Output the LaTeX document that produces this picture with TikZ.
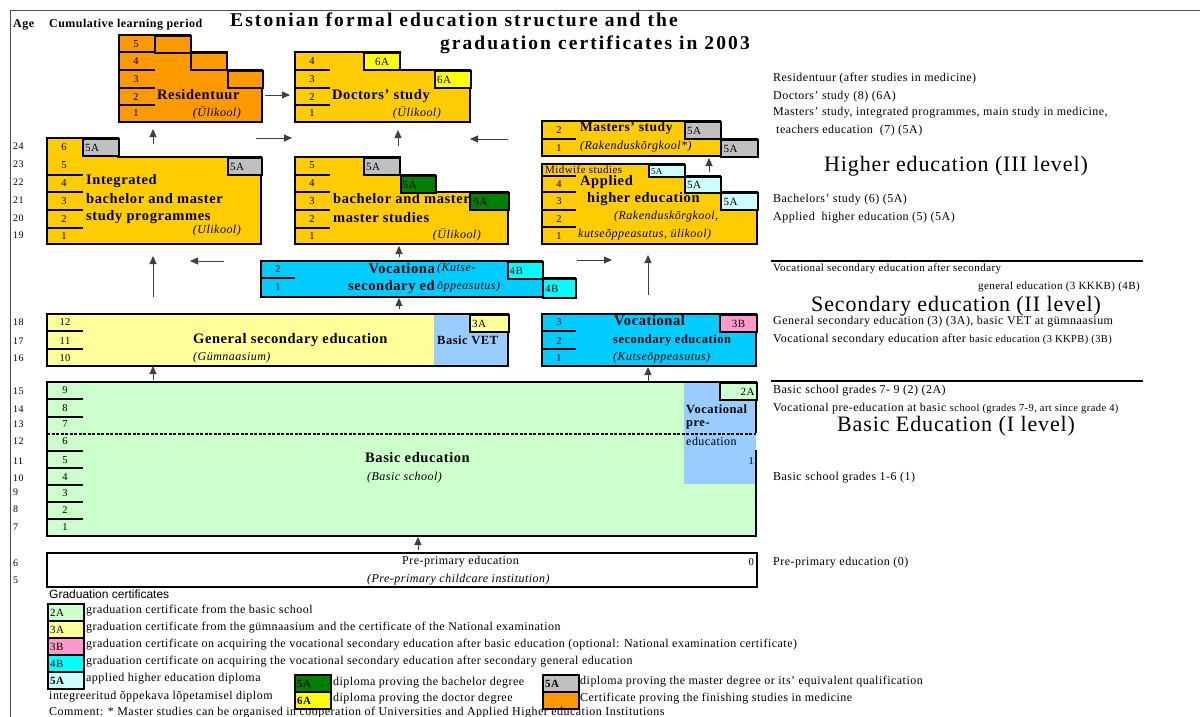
\documentclass[tikz,border=0pt]{standalone}
\usepackage{fontspec}
\setmainfont{Liberation Serif}[LetterSpace=4]
\setsansfont{Liberation Sans}
\usetikzlibrary{arrows.meta}

\definecolor{medorange}{HTML}{FF9900}
\definecolor{higold}{HTML}{FFCC00}
\definecolor{docyellow}{HTML}{FFFF00}
\definecolor{magrey}{HTML}{C0C0C0}
\definecolor{bagreen}{HTML}{008000}
\definecolor{apcyan}{HTML}{CCFFFF}
\definecolor{vocblue}{HTML}{00CCFF}
\definecolor{vscyan}{HTML}{00FFFF}
\definecolor{genyellow}{HTML}{FFFF99}
\definecolor{vetblue}{HTML}{99CCFF}
\definecolor{vspink}{HTML}{FF99CC}
\definecolor{basgreen}{HTML}{CCFFCC}

\begin{document}
\begin{tikzpicture}[x=1pt, y=-1pt]
	\tikzset{block/.style={draw=black, line width=1.6pt, fill=#1},
		cert/.style={draw=black, line width=2.2pt, fill=#1, anchor=north west, inner sep=1pt,
			minimum width=36pt, minimum height=17pt, text width=32pt, align=left,
			font=\fontsize{11}{11}\selectfont},
		sep/.style={line width=1.6pt},
		num/.style={font=\fontsize{10.5}{11}\selectfont, inner sep=0pt},
		age/.style={font=\fontsize{10}{10}\selectfont, anchor=west, inner sep=0pt},
		lab/.style={font=\fontsize{14.5}{15}\selectfont\bfseries, anchor=west, inner sep=0pt},
		sublab/.style={font=\fontsize{12.5}{13}\selectfont\bfseries, anchor=west, inner sep=0pt},
		itl/.style={font=\fontsize{12}{12}\selectfont\itshape, inner sep=0pt},
		side/.style={font=\fontsize{12}{12}\selectfont, anchor=west, inner sep=0pt},
		small/.style={font=\fontsize{11}{11}\selectfont, anchor=west, inner sep=0pt},
		level/.style={font=\fontsize{22}{22}\selectfont, anchor=west, inner sep=0pt},
		titletext/.style={font=\fontsize{19.5}{20}\selectfont\bfseries\addfontfeature{LetterSpace=10.8}, inner sep=0pt},
		arr/.style={-{Triangle[length=8pt,width=7pt]}, draw=black!75, line width=0.9pt}}
	\useasboundingbox (0,0) rectangle (1200,717);
	
	% frame and title
	\draw[black!70, line width=0.8pt] (10,717) -- (10,10) -- (1200,10);
	\node[age, font=\fontsize{12}{12}\selectfont\bfseries] (agehead) at (13,25) {Age};
	\node[age, font=\fontsize{12}{12}\selectfont\bfseries] (cumhead) at (49,25) {Cumulative learning period};
	\node[titletext, anchor=base west] (title1) at (230,27) {Estonian formal education structure and the};
	\node[titletext, anchor=base east] (title2) at (750,49.5) {graduation certificates in 2003};
	
	% Residentuur
	\draw[block=medorange] (119,35) -| (190,52) -| (227,70) -| (262,122) -- (119,122) -- cycle;
	\node[cert=medorange] (res5) at (154,35) {};
	\node[cert=medorange] (res4) at (190,52) {};
	\node[cert=medorange, minimum width=35pt] (res3) at (227,70) {};
	\foreach \y in {52,70,88,105} \draw[sep] (119,\y) -- (155,\y);
	\foreach \n/\y in {5/44,4/61,3/79,2/97,1/113} \node[num] (resn\n) at (136,\y) {\n};
	\node[lab] (reslab) at (157,95) {Residentuur};
	\node[itl, anchor=east] (resinst) at (241,113) {(Ülikool)};
	
	% Doctors' study
	\draw[block=higold] (295,52) -| (400,70) -| (470,122) -- (295,122) -- cycle;
	\node[cert=docyellow] (doc4) at (363,52) {\hfill6A\hfill\null};
	\node[cert=docyellow] (doc3) at (434,70) {6A};
	\foreach \y in {70,88,105} \draw[sep] (295,\y) -- (330,\y);
	\foreach \n/\y in {4/61,3/79,2/97,1/113} \node[num] (docn\n) at (312,\y) {\n};
	\node[lab] (doclab) at (332,96) {Doctors' study};
	\node[itl, anchor=east] (docinst) at (441,113) {(Ülikool)};
	
	% Integrated bachelor and master
	\draw[block=higold] (47,138) -| (118,157) -| (261,244) -- (47,244) -- cycle;
	\node[cert=magrey] (int6) at (82,138) {5A};
	\node[cert=magrey, minimum width=34pt, text width=30pt] (int5) at (227,157) {5A};
	\foreach \y in {175,192,210,228} \draw[sep] (47,\y) -- (83,\y);
	\foreach \n/\y in {6/147,5/165,4/183,3/201,2/219,1/236} \node[num] (intn\n) at (64,\y) {\n};
	\node[lab] (intlab1) at (86,181) {Integrated};
	\node[lab] (intlab2) at (86,199) {bachelor and master};
	\node[lab] (intlab3) at (86,217) {study programmes};
	\node[itl, anchor=east] (intinst) at (241,231) {(Ulikool)};
	
	% Bachelor and master studies
	\draw[block=higold] (295,157) -| (400,175) -| (435,192) -| (508,244) -- (295,244) -- cycle;
	\node[lab] (balab1) at (333,199) {bachelor and master};
	\node[lab] (balab2) at (333,218) {master studies};
	\node[cert=magrey] (ba5) at (363,157) {5A};
	\node[cert=bagreen, minimum width=35pt] (ba4) at (400,175) {5A};
	\node[cert=bagreen, minimum width=39pt] (ba3) at (469,192) {5A};
	\foreach \y in {175,192,210,228} \draw[sep] (295,\y) -- (330,\y);
	\foreach \n/\y in {5/165,4/183,3/201,2/219,1/236} \node[num] (ban\n) at (312,\y) {\n};
	\node[itl, anchor=east] (bainst) at (481,235) {(Ülikool)};
	
	% Masters' study (applied)
	\draw[block=higold] (542,121) -| (720,139) -| (757,156) -- (542,156) -- cycle;
	\node[cert=magrey] (ma2) at (684,121) {5A};
	\node[cert=magrey, minimum width=37pt] (ma1) at (720,139) {5A};
	\draw[sep] (542,139) -- (576,139);
	\foreach \n/\y in {2/130,1/148} \node[num] (man\n) at (559,\y) {\n};
	\node[lab, font=\fontsize{13.5}{14}\selectfont\bfseries] (malab) at (580,128) {Masters' study};
	\node[itl, anchor=west] (mainst) at (580,147) {(Rakenduskõrgkool*)};
	
	% Applied higher education
	\draw[block=higold] (542,164) -| (684,176) -| (720,192) -| (757,244) -- (542,244) -- cycle;
	\node[cert=apcyan, minimum height=12pt, font=\fontsize{9}{9}\selectfont] (ap5) at (648,164) {5A};
	\node[cert=apcyan, minimum height=16pt] (ap4) at (684,176) {5A};
	\node[cert=apcyan, minimum width=37pt] (ap3) at (720,192) {5A};
	\foreach \y in {176,192,210,227} \draw[sep] (542,\y) -- (576,\y);
	\foreach \n/\y in {4/184,3/201,2/219,1/236} \node[num] (apn\n) at (559,\y) {\n};
	\node[small] (midwife) at (545,170) {Midwife studies};
	\node[lab] (aplab1) at (580,182) {Applied};
	\node[lab] (aplab2) at (587,199) {higher education};
	\node[itl, anchor=west] (apinst1) at (614,217) {(Rakenduskõrgkool,};
	\node[itl, anchor=west] (apinst2) at (578,235) {kutseõppeasutus, ülikool)};
	
	% Vocational secondary education after secondary
	\draw[block=vocblue] (261,261) -| (542,278) -| (575,297) -- (261,297) -- cycle;
	\node[cert=vscyan, minimum width=35pt] (vs2) at (507,261) {4B};
	\node[cert=vscyan, minimum width=33pt, minimum height=19pt, text width=29pt] (vs1) at (542,278) {4B};
	\draw[sep] (261,278) -- (295,278);
	\foreach \n/\y in {2/269,1/287} \node[num] (vsn\n) at (278,\y) {\n};
	\node[lab, anchor=east] (vslab1) at (435,269) {Vocationa};
	\node[lab, anchor=east] (vslab2) at (435,287) {secondary ed};
	\node[itl, anchor=west] (vsinst1) at (437,269) {(Kutse-};
	\node[itl, anchor=west] (vsinst2) at (437,287) {õppeasutus)};
	
	% General secondary education and basic VET
	\fill[genyellow] (47,314) rectangle (434,366);
	\fill[vetblue] (434,314) rectangle (508,366);
	\draw[block=none] (47,314) rectangle (508,366);
	\node[cert=genyellow, minimum width=39pt, text width=35pt] (gen3) at (469,314) {3A};
	\foreach \y in {331,349} \draw[sep] (47,\y) -- (83,\y);
	\foreach \n/\y in {12/322,11/341,10/358} \node[num] (genn\n) at (65,\y) {\n};
	\node[lab] (genlab) at (193,340) {General secondary education};
	\node[itl, anchor=west] (geninst) at (193,358) {(Gümnaasium)};
	\node[sublab] (vetlab) at (437,340) {Basic VET};
	
	% Vocational secondary education after basic
	\draw[block=vocblue] (542,314) rectangle (756,366);
	\node[cert=vspink, minimum width=37pt, align=center] (vb3) at (719,314) {3B};
	\foreach \y in {331,349} \draw[sep] (542,\y) -- (576,\y);
	\foreach \n/\y in {3/322,2/341,1/358} \node[num] (vbn\n) at (559,\y) {\n};
	\node[lab] (vblab1) at (614,321) {Vocational};
	\node[sublab] (vblab2) at (613,341) {secondary education};
	\node[itl, anchor=west] (vbinst) at (613,358) {(Kutseõppeasutus)};
	
	% Basic education
	\fill[basgreen] (47,382) rectangle (756,536);
	\fill[vetblue] (684,382) rectangle (756,484);
	\draw[block=none] (756,433) -- (756,382) -- (47,382) -- (47,536) -- (756,536) -- (756,450);
	\draw[line width=1.3pt, dash pattern=on 3pt off 1.5pt] (47,434) -- (756,434);
	\node[cert=basgreen, minimum width=37pt, align=right] (bas9) at (719,382) {2A};
	\foreach \y in {399,417,451,468,485,502,519} \draw[sep] (47,\y) -- (83,\y);
	\foreach \n/\y in {9/390,8/408,7/424,6/441,5/460,4/477,3/493,2/510,1/527} \node[num] (basn\n) at (65,\y) {\n};
	\node[lab] (baslab) at (365,458) {Basic education};
	\node[itl, anchor=west] (basinst) at (367,478) {(Basic school)};
	\node[sublab] (vplab1) at (686,409) {Vocational};
	\node[sublab] (vplab2) at (686,425) {pre-};
	\node[side] (vplab3) at (686,441) {education};
	\node[num, anchor=east] (vpn1) at (754,461) {1};
	
	% Pre-primary education
	\draw[block=white] (47,553) rectangle (757,587);
	\node[side] (prelab) at (402,562) {Pre-primary education};
	\node[itl, anchor=west] (preinst) at (367,580) {(Pre-primary childcare institution)};
	\node[num, anchor=east] (pren0) at (754,562) {0};
	
	% ages
	\foreach \a/\y in {24/146,23/164,22/182,21/200,20/218,19/235,18/322,17/341,16/358,15/391,14/409,13/424,12/441,11/461,10/478,9/492,8/509,7/527,6/563,5/580}
		\node[age] (age\a) at (13,\y) {\a};
	
	% arrows between levels
	\foreach \n/\x/\y in {rs/153/144, re/153/129, rds/265/95, rde/290/95, ids/256/138, ide/292/138,
			dus/398/146, due/398/130, mds/508/139, mde/470/139, aus/709/172, aue/709/158,
			gus/153/297, gue/153/256, vls/224/261, vle/190/261, vus/399/257, vue/399/246,
			ars/577/260, are/612/260, bus/648/295, bue/648/255, gvs/399/309, gve/399/298,
			bgs/153/380, bge/153/366, bvs/648/381, bve/648/367, ps/418/550, pe/418/537}
		\coordinate (\n) at (\x,\y);
	\foreach \s/\e in {rs/re, rds/rde, ids/ide, dus/due, mds/mde, aus/aue, gus/gue, vls/vle,
			vus/vue, ars/are, bus/bue, gvs/gve, bgs/bge, bvs/bve, ps/pe}
		\draw[arr] (\s) -- (\e);
	
	% level descriptions
	\node[side] (d1) at (773,79) {Residentuur (after studies in medicine)};
	\node[side] (d2) at (773,97) {Doctors' study (8) (6A)};
	\node[side] (d3) at (773,113) {Masters' study, integrated programmes, main study in medicine,};
	\node[side] (d4) at (776,131) {teachers education\ \ (7) (5A)};
	\node[level] (lev3) at (824,166) {Higher education (III level)};
	\node[side] (d5) at (773,200) {Bachelors' study (6) (5A)};
	\node[side] (d6) at (773,218) {Applied\ \ higher education (5) (5A)};
	\draw[line width=1.5pt] (771,261) -- (1143,261);
	\node[small] (d7) at (773,269) {Vocational secondary education after secondary};
	\node[small, anchor=east] (d8) at (1140,287) {general education (3 KKKB) (4B)};
	\node[level] (lev2) at (811,306) {Secondary education (II level)};
	\node[side] (d9) at (773,322) {General secondary education (3) (3A), basic VET at gümnaasium};
	\node[side] (d10) at (773,340) {Vocational secondary education after {\fontsize{10.5}{10.5}\selectfont basic education (3 KKPB) (3B)}};
	\draw[line width=1.5pt] (771,381) -- (1143,381);
	\node[side] (d11) at (773,391) {Basic school grades 7- 9 (2) (2A)};
	\node[side] (d12) at (773,409) {Vocational pre-education at basic {\fontsize{10.5}{10.5}\selectfont school (grades 7-9, art since grade 4)}};
	\node[level] (lev1) at (837,426) {Basic Education (I level)};
	\node[side] (d13) at (773,478) {Basic school grades 1-6 (1)};
	\node[side] (d14) at (773,563) {Pre-primary education (0)};
	
	% legend of certificates
	\node[anchor=west, inner sep=0pt, font=\sffamily\fontsize{12}{12}\selectfont] (leghead) at (49,594) {Graduation certificates};
	\foreach \c/\t/\y/\txt in {basgreen/2A/603/graduation certificate from the basic school,
			genyellow/3A/620/graduation certificate from the gümnaasium and the certificate of the National examination,
			vspink/3B/637/graduation certificate on acquiring the vocational secondary education after basic education (optional: National examination certificate),
			vscyan/4B/654/graduation certificate on acquiring the vocational secondary education after secondary general education}{
		\node[cert=\c] (leg\t) at (47,\y) {\t};
		\node[side] (legtxt\t) at (86,\y+8) {\txt};
	}
	\node[cert=apcyan, font=\fontsize{11}{11}\selectfont\bfseries] (leg5a) at (47,671) {5A};
	\node[side] (legtxt5a) at (86,679) {applied higher education diploma};
	\node[side] (legtxtint) at (49,697) {integreeritud õppekava lõpetamisel diplom};
	\node[cert=bagreen, font=\fontsize{11}{11}\selectfont\bfseries] (legba) at (294,674) {5A};
	\node[side] (legtxtba) at (333,683) {diploma proving the bachelor degree};
	\node[cert=docyellow, font=\fontsize{11}{11}\selectfont\bfseries] (legdoc) at (294,691) {6A};
	\node[side] (legtxtdoc) at (333,699) {diploma proving the doctor degree};
	\node[cert=magrey, font=\fontsize{11}{11}\selectfont\bfseries] (legma) at (542,674) {5A};
	\node[side] (legtxtma) at (580,682) {diploma proving the master degree or its' equivalent qualification};
	\node[cert=medorange] (legres) at (542,691) {};
	\node[side] (legtxtres) at (580,699) {Certificate proving the finishing studies in medicine};
	\node[side] (comment) at (49,713) {Comment: * Master studies can be organised in cooperation of Universities and Applied Higher education Institutions};
\end{tikzpicture}
\end{document}
